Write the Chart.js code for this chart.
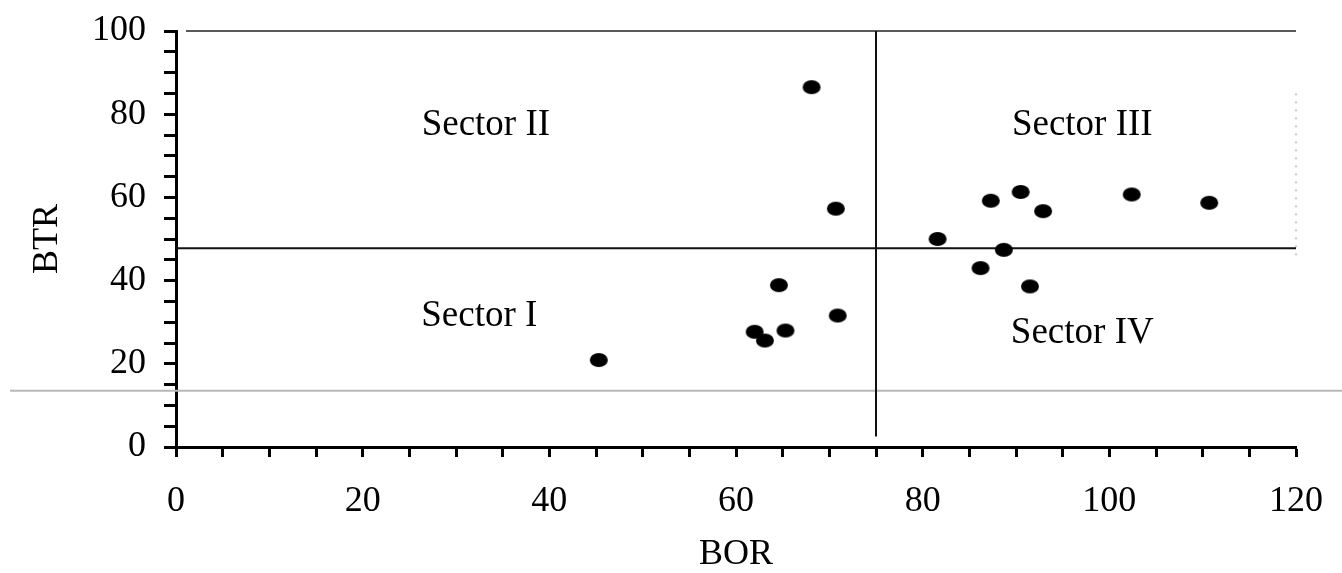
<!DOCTYPE html>
<html>
<head>
<meta charset="utf-8">
<script src="https://cdn.jsdelivr.net/npm/chart.js@4.4.1/dist/chart.umd.min.js"></script>
<style>
  html, body { margin: 0; padding: 0; background: #fff; }
  #wrap { width: 1342px; height: 573px; }
</style>
</head>
<body>
<div id="wrap"><canvas id="myChart" width="1342" height="573"></canvas></div>
<script>
// BOR (x) / BTR (y) pairs
const bor = [45.3, 62.0, 63.1, 64.6, 65.3, 68.1, 70.7, 70.9,
             81.6, 86.2, 87.3, 88.7, 90.5, 91.5, 92.9, 102.4, 110.7];
const btr = [20.9, 27.7, 25.6, 38.9, 28.0, 86.5, 57.3, 31.6,
             50.0, 43.0, 59.2, 47.4, 61.3, 38.6, 56.7, 60.7, 58.7];

// quadrant dividers
const borCut = 75;
const btrCut = 47.8;

const sectorNames = ['Sector I', 'Sector II', 'Sector III', 'Sector IV'];
const sectorX = [32.5, 33.2, 97.1, 97.1];
const sectorY = [31.5, 77.4, 77.4, 27.4];

const xTicks = [0, 20, 40, 60, 80, 100, 120];
const yTicks = [0, 20, 40, 60, 80, 100];

const serif = "'Liberation Serif', 'DejaVu Serif', serif";

// filled ellipse marker like the scanned dots
function makeDot() {
    const c = document.createElement('canvas');
    c.width = 20; c.height = 16;
    const g = c.getContext('2d');
    g.fillStyle = '#000';
    g.beginPath();
    g.ellipse(10, 8, 9, 7, 0, 0, Math.PI * 2);
    g.fill();
    return c;
}

const points = bor.map((v, i) => ({ x: v, y: btr[i] }));

// sector captions, the frame and the scan line
const decor = {
    id: 'decor',
    beforeDatasetsDraw(chart) {
        const { ctx, chartArea: a, scales: { x, y } } = chart;
        ctx.save();
        // grey scan line across the whole page
        const gy = y.getPixelForValue(13.5);
        ctx.strokeStyle = '#b8b8b8';
        ctx.lineWidth = 2;
        ctx.beginPath();
        ctx.moveTo(10, gy);
        ctx.lineTo(chart.width, gy);
        ctx.stroke();
        // top frame line
        ctx.strokeStyle = '#222';
        ctx.lineWidth = 1.5;
        ctx.beginPath();
        ctx.moveTo(a.left + 10, a.top);
        ctx.lineTo(a.right, a.top);
        ctx.stroke();
        // faint dotted right edge
        ctx.strokeStyle = '#999';
        ctx.lineWidth = 1;
        ctx.setLineDash([2, 6]);
        ctx.beginPath();
        ctx.moveTo(a.right, y.getPixelForValue(85));
        ctx.lineTo(a.right, y.getPixelForValue(45));
        ctx.stroke();
        ctx.setLineDash([]);
        ctx.restore();
    },
    afterDatasetsDraw(chart) {
        const { ctx, scales: { x, y } } = chart;
        ctx.save();
        ctx.fillStyle = '#000';
        ctx.font = '37px ' + serif;
        ctx.textAlign = 'center';
        ctx.textBaseline = 'middle';
        sectorNames.forEach((s, i) => {
            ctx.fillText(s, x.getPixelForValue(sectorX[i]), y.getPixelForValue(sectorY[i]));
        });
        ctx.restore();
    }
};

const ctx = document.getElementById('myChart').getContext('2d');
const myChart = new Chart(ctx, {
    type: 'scatter',
    data: {
        datasets: [{
            data: points,
            pointStyle: makeDot(),
            order: 0
        }, {
            type: 'line',
            data: [{ x: borCut, y: 2.5 }, { x: borCut, y: 100 }],
            borderColor: '#111',
            borderWidth: 2,
            pointRadius: 0,
            order: 1
        }, {
            type: 'line',
            data: [{ x: 0, y: btrCut }, { x: 120, y: btrCut }],
            borderColor: '#111',
            borderWidth: 2,
            pointRadius: 0,
            order: 1
        }]
    },
    options: {
        responsive: false,
        animation: false,
        layout: { padding: { top: 31, right: 46, left: 0, bottom: 0 } },
        plugins: { legend: { display: false }, tooltip: { enabled: false } },
        scales: {
            x: {
                type: 'linear',
                min: 0, max: 120,
                afterFit(s) {
                    s.height = 126;
                    s.paddingLeft = 0; s.paddingRight = 0;
                },
                afterBuildTicks(s) {
                    s.ticks = [];
                    for (let v = 0; v <= 120; v += 5) s.ticks.push({ value: v });
                },
                border: { display: true, color: '#000', width: 3 },
                grid: { drawOnChartArea: false, drawTicks: true, tickLength: 10, tickWidth: 3, tickColor: '#000' },
                ticks: {
                    autoSkip: false,
                    maxRotation: 0,
                    padding: 23,
                    color: '#000',
                    font: { family: serif, size: 36 },
                    callback: v => xTicks.includes(v) ? String(v) : ''
                },
                title: {
                    display: true, text: 'BOR', color: '#000',
                    font: { family: serif, size: 36, lineHeight: 1 },
                    padding: { top: 0, bottom: 0 }
                }
            },
            y: {
                type: 'linear',
                min: 0, max: 100,
                afterFit(s) {
                    s.width = 176;
                    s.paddingTop = 0; s.paddingBottom = 0;
                },
                afterBuildTicks(s) {
                    s.ticks = [];
                    for (let v = 0; v <= 100; v += 5) s.ticks.push({ value: v });
                },
                border: { display: true, color: '#000', width: 3 },
                grid: { drawOnChartArea: false, drawTicks: true, tickLength: 12, tickWidth: 3, tickColor: '#000' },
                ticks: {
                    autoSkip: false,
                    padding: 18,
                    color: '#000',
                    font: { family: serif, size: 36 },
                    callback: v => yTicks.includes(v) ? String(v) : ''
                },
                title: {
                    display: true, text: 'BTR', color: '#000',
                    font: { family: serif, size: 36, lineHeight: 1 },
                    padding: { top: 30, bottom: 0 }
                }
            }
        }
    },
    plugins: [decor]
});
</script>
</body>
</html>
